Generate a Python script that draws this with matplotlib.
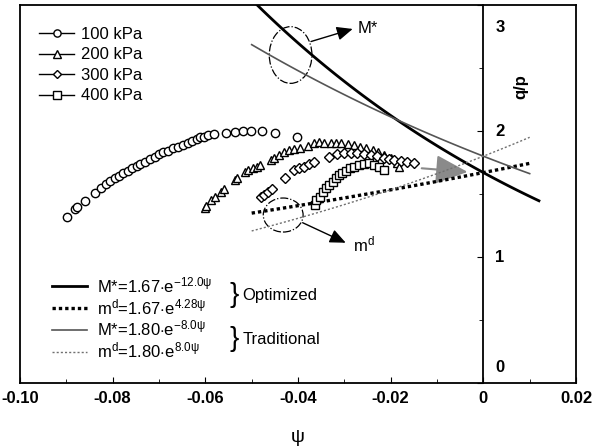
import numpy as np
import matplotlib
matplotlib.use('Agg')
import matplotlib.pyplot as plt
from matplotlib.patches import Ellipse
from matplotlib.transforms import offset_copy
from matplotlib.lines import Line2D

plt.rcParams['font.family'] = ['Liberation Sans', 'DejaVu Sans']
plt.rcParams['mathtext.fontset'] = 'custom'
plt.rcParams['mathtext.rm'] = 'Liberation Sans'
plt.rcParams['mathtext.it'] = 'Liberation Sans'
plt.rcParams['mathtext.bf'] = 'Liberation Sans:bold'

# test data (psi, q/p)
psi_100 = [-0.0899, -0.0882, -0.0877, -0.0859, -0.0839, -0.0825, -0.0815, -0.0806, -0.0795,
           -0.0786, -0.0777, -0.0768, -0.0759, -0.0748, -0.0741, -0.0730, -0.0720, -0.0709,
           -0.0700, -0.0691, -0.0680, -0.0669, -0.0659, -0.0648, -0.0637, -0.0628, -0.0619,
           -0.0612, -0.0603, -0.0594, -0.0581, -0.0555, -0.0535, -0.0519, -0.0502, -0.0478,
           -0.0449, -0.0402]
qp_100 = [1.315, 1.379, 1.394, 1.447, 1.506, 1.545, 1.579, 1.603, 1.625,
          1.643, 1.669, 1.685, 1.704, 1.722, 1.738, 1.756, 1.775, 1.796,
          1.817, 1.831, 1.844, 1.863, 1.875, 1.891, 1.907, 1.923, 1.934,
          1.950, 1.955, 1.966, 1.976, 1.987, 1.994, 1.998, 1.998, 1.998,
          1.987, 1.955]

psi_200 = [-0.0600, -0.0598, -0.0587, -0.0580, -0.0567, -0.0560, -0.0537, -0.0531, -0.0515,
           -0.0508, -0.0497, -0.0488, -0.0481, -0.0458, -0.0451, -0.0442, -0.0431, -0.0419,
           -0.0408, -0.0395, -0.0379, -0.0365, -0.0354, -0.0343, -0.0329, -0.0318, -0.0307,
           -0.0293, -0.0279, -0.0266, -0.0254, -0.0239, -0.0227, -0.0214, -0.0200, -0.0186,
           -0.0182]
qp_200 = [1.387, 1.407, 1.452, 1.474, 1.518, 1.537, 1.611, 1.629, 1.677,
          1.690, 1.709, 1.717, 1.730, 1.770, 1.788, 1.810, 1.836, 1.849,
          1.857, 1.863, 1.881, 1.902, 1.915, 1.902, 1.902, 1.902, 1.902,
          1.894, 1.889, 1.875, 1.863, 1.849, 1.836, 1.810, 1.783, 1.743,
          1.717]

psi_300 = [-0.0479, -0.0474, -0.0464, -0.0456, -0.0428, -0.0408, -0.0397, -0.0386, -0.0376,
           -0.0365, -0.0333, -0.0315, -0.0300, -0.0286, -0.0272, -0.0257, -0.0243, -0.0229,
           -0.0214, -0.0204, -0.0193, -0.0178, -0.0164, -0.0150]
qp_300 = [1.474, 1.492, 1.518, 1.537, 1.625, 1.690, 1.704, 1.717, 1.736,
          1.756, 1.794, 1.820, 1.825, 1.825, 1.823, 1.817, 1.810, 1.802,
          1.788, 1.775, 1.770, 1.764, 1.752, 1.743]

psi_400 = [-0.0363, -0.0361, -0.0352, -0.0345, -0.0340, -0.0333, -0.0325, -0.0318, -0.0311,
           -0.0304, -0.0297, -0.0287, -0.0279, -0.0268, -0.0257, -0.0247, -0.0236, -0.0225,
           -0.0214]
qp_400 = [1.413, 1.452, 1.474, 1.518, 1.545, 1.571, 1.598, 1.625, 1.651,
          1.669, 1.685, 1.704, 1.717, 1.730, 1.738, 1.743, 1.730, 1.717,
          1.690]

series_labels = ['100 kPa', '200 kPa', '300 kPa', '400 kPa']
series_markers = ['o', '^', 'D', 's']

# model curves: value = a * exp(b * psi), over the psi range drawn in the figure
curve_a = [1.67, 1.67, 1.80, 1.80]
curve_b = [-12.0, 4.28, -8.0, 8.0]
curve_psi0 = [-0.05, -0.05, -0.05, -0.05]
curve_psi1 = [0.012, 0.01, 0.01, 0.01]
curve_labels = [r'M*=1.67$\cdot$e$^{-12.0\psi}$', r'm$^{\mathrm{d}}$=1.67$\cdot$e$^{4.28\psi}$',
                r'M*=1.80$\cdot$e$^{-8.0\psi}$', r'm$^{\mathrm{d}}$=1.80$\cdot$e$^{8.0\psi}$']

xticks = [-0.10, -0.08, -0.06, -0.04, -0.02, 0, 0.02]
xticklabels = ['-0.10', '-0.08', '-0.06', '-0.04', '-0.02', '0', '0.02']
yticks = [0, 1, 2, 3]
yticklabels = ['0', '1', '2', '3']

fig = plt.figure(figsize=(5.94, 4.46), dpi=100)
ax = fig.add_axes([0.0337, 0.1413, 0.936, 0.8475])
ax.set_xlim(-0.10, 0.02)
ax.set_ylim(0, 3)

# data points
pts = []
for xs, ys, m, lab in zip([psi_100, psi_200, psi_300, psi_400], [qp_100, qp_200, qp_300, qp_400],
                          series_markers, series_labels):
    ms = 5.2 if m == 'D' else 6.0
    ax.plot(xs, ys, linestyle='none', marker=m, ms=ms, mfc='white', mec='black', mew=1.0,
            label=lab, zorder=4)
    pts.append(Line2D([], [], color='black', lw=1.0, marker=m, ms=ms - 0.8, mfc='white',
                      mec='black', mew=1.0))

# model curves
styles = [dict(color='black', lw=2.0, ls='-'),
          dict(color='black', lw=2.4, ls=(0, (1, 0.9))),
          dict(color='#555555', lw=1.2, ls='-'),
          dict(color='#707070', lw=1.0, ls=(0, (1.5, 1.5)))]
lines = []
for a, b, p0, p1, st in zip(curve_a, curve_b, curve_psi0, curve_psi1, styles):
    pp = np.linspace(p0, p1, 100)
    h, = ax.plot(pp, a * np.exp(b * pp), zorder=3, **st)
    lines.append(h)

leg1 = ax.legend(pts, series_labels, loc='upper left', bbox_to_anchor=(0.035, 0.942),
                 frameon=False, fontsize=12, handlelength=2.1, handletextpad=0.4,
                 labelspacing=0.33, borderpad=0, borderaxespad=0)
ax.add_artist(leg1)
ax.legend(lines, curve_labels, loc='center left', bbox_to_anchor=(0.058, 0.172),
          frameon=False, fontsize=12, handlelength=2.1, handletextpad=0.6,
          labelspacing=0.12, borderpad=0, borderaxespad=0)

# braces for the two groups
ax.text(0.376, 0.232, '}', transform=ax.transAxes, fontsize=20, va='center', ha='left')
ax.text(0.400, 0.231, 'Optimized', transform=ax.transAxes, fontsize=12, va='center', ha='left')
ax.text(0.376, 0.117, '}', transform=ax.transAxes, fontsize=20, va='center', ha='left')
ax.text(0.400, 0.116, 'Traditional', transform=ax.transAxes, fontsize=12, va='center', ha='left')

# ellipses and arrows
ax.add_patch(Ellipse((-0.0416, 2.603), 0.0092, 0.45, fill=False, ls='-.', lw=0.9, color='black'))
ax.add_patch(Ellipse((-0.0432, 1.333), 0.0086, 0.27, fill=False, ls='-.', lw=0.9, color='black'))
ax.annotate('', xy=(-0.0282, 2.81), xytext=(-0.0372, 2.71),
            arrowprops=dict(arrowstyle='-|>,head_length=0.8,head_width=0.35', color='black',
                            lw=1.0, mutation_scale=12, shrinkA=0, shrinkB=0))
ax.text(-0.0272, 2.81, 'M*', fontsize=12, va='center', ha='left')
ax.annotate('', xy=(-0.0297, 1.113), xytext=(-0.0390, 1.272),
            arrowprops=dict(arrowstyle='-|>,head_length=0.8,head_width=0.35', color='black',
                            lw=1.0, mutation_scale=12, shrinkA=0, shrinkB=0))
ax.text(-0.0282, 1.10, r'm$^{\mathrm{d}}$', fontsize=12, va='center', ha='left')
ax.annotate('', xy=(-0.0034, 1.675), xytext=(-0.0133, 1.704),
            arrowprops=dict(arrowstyle='-|>,head_length=1.0,head_width=0.45', color='#8a8a8a',
                            lw=1.5, mutation_scale=20, shrinkA=0, shrinkB=0), zorder=2)

# axes: y axis sits at psi = 0
for s in ['top', 'right', 'bottom']:
    ax.spines[s].set_linewidth(1.3)
ax.spines['left'].set_position(('data', 0))
ax.spines['left'].set_linewidth(1.3)
ax.plot([0, 0], [0, 1], transform=ax.transAxes, color='black', lw=1.3, clip_on=False)

ax.set_xticks(xticks)
ax.set_xticklabels(xticklabels, fontweight='bold', fontsize=12)
ax.set_xticks(np.arange(-0.09, 0.02, 0.02), minor=True)
ax.tick_params(axis='x', direction='in', length=4, width=0.8, pad=6, top=False)
ax.tick_params(axis='x', which='minor', direction='in', length=3, width=0.6, top=False)

ax.set_yticks(yticks)
ax.set_yticklabels([])
ax.set_yticks([0.5, 1.5, 2.5], minor=True)
ax.tick_params(axis='y', direction='out', length=4, width=0.8, right=False)
ax.tick_params(axis='y', which='minor', direction='out', length=3, width=0.6, right=False)
for v, s in zip(yticks, yticklabels):
    dy = -16.5 if v == max(yticks) else (11.5 if v == min(yticks) else -0.7)
    tr = offset_copy(ax.transData, fig=fig, x=8.6, y=dy, units='points')
    ax.text(0, v, s, transform=tr, ha='left', va='center', fontweight='bold', fontsize=12)

ax.text(0.0080, 2.35, 'q/p', rotation=90, ha='center', va='center', fontweight='bold', fontsize=12)
ax.set_xlabel('ψ', fontsize=14, labelpad=16)

fig.savefig('out.png', dpi=100)
